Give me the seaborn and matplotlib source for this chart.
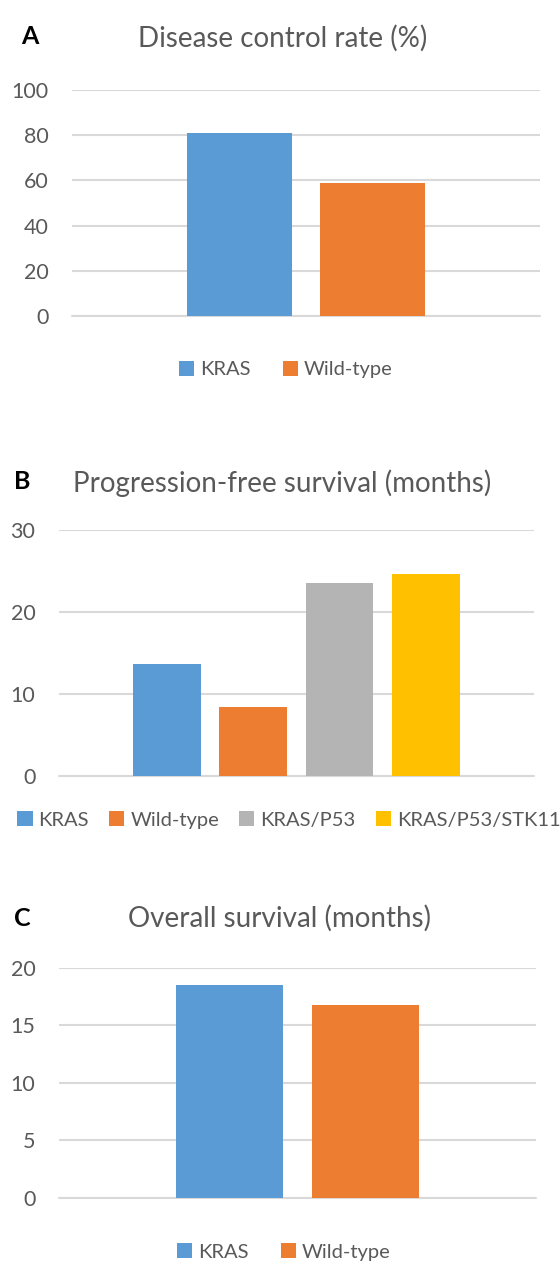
import pandas as pd
import matplotlib.pyplot as plt
import seaborn as sns

# --- Dados ---
DCR_GROUPS = ["KRAS", "Wild-type"]
DCR_VALUES = [81, 59]

PFS_GROUPS = ["KRAS", "Wild-type", "KRAS/P53", "KRAS/P53/STK11"]
PFS_VALUES = [13.6, 8.4, 23.5, 24.6]

OS_GROUPS = ["KRAS", "Wild-type"]
OS_VALUES = [18.5, 16.8]

COLORS = {"KRAS": "#5B9BD5", "Wild-type": "#ED7D31",
          "KRAS/P53": "#B4B4B4", "KRAS/P53/STK11": "#FFC000"}

TEXT = "#595959"
GRID = "#D9D9D9"

sns.set_theme(style="white")
plt.rcParams['font.family'] = ['Lato', 'DejaVu Sans']


def painel(fig, rect, groups, values, yticks, width, gap, title, letter,
           title_xy, letter_xy, legend_xy, tick_pad):
    ax = fig.add_axes(rect)
    df = pd.DataFrame({"cat": [""] * len(groups), "group": groups, "value": values})
    sns.barplot(data=df, x="cat", y="value", hue="group", hue_order=groups,
                palette=COLORS, width=width, gap=gap, saturation=1,
                linewidth=0, ax=ax, zorder=3)
    ax.set_xlim(-0.5, 0.5)
    ax.set_ylim(yticks[0], yticks[-1])
    ax.set_yticks(yticks)
    ax.set_xticks([])
    ax.set_xlabel("")
    ax.set_ylabel("")
    for s in ax.spines.values():
        s.set_visible(False)
    ax.grid(axis='y', color=GRID, linewidth=1.5, zorder=0)
    ax.set_axisbelow(True)
    ax.tick_params(axis='y', length=0, pad=tick_pad, labelsize=15.5, labelcolor=TEXT)
    ax.set_facecolor("white")
    # linha do zero
    ax.axhline(0, color=GRID, linewidth=1.5, zorder=1, clip_on=False)

    handles, labels = ax.get_legend_handles_labels()
    ax.get_legend().remove()
    fig.legend(handles, labels, loc='center', bbox_to_anchor=legend_xy,
               ncol=len(groups), frameon=False, fontsize=14.5,
               handlelength=0.75, handleheight=0.75, handletextpad=0.3,
               columnspacing=1.0 if len(groups) > 2 else 1.6,
               labelcolor=TEXT)

    fig.text(title_xy[0], title_xy[1], title, ha='center', va='center',
             fontsize=20, color=TEXT)
    fig.text(letter_xy[0], letter_xy[1], letter, ha='center', va='center',
             fontsize=18, fontweight='bold', color='black')
    return ax


def main():
    fig = plt.figure(figsize=(5.6, 12.75), dpi=100)
    fig.patch.set_facecolor("white")

    painel(fig, [0.1286, 0.7522, 0.8357, 0.1773], DCR_GROUPS, DCR_VALUES,
           [0, 20, 40, 60, 80, 100], 0.568, 0.21,
           "Disease control rate (%)", "A",
           (0.504, 0.970), (0.053, 0.971), (0.51, 0.71), 17)

    painel(fig, [0.1054, 0.3914, 0.848, 0.193], PFS_GROUPS, PFS_VALUES,
           [0, 10, 20, 30], 0.725, 0.21,
           "Progression-free survival (months)", "B",
           (0.504, 0.621), (0.04, 0.622), (0.516, 0.357), 17)

    painel(fig, [0.1054, 0.0604, 0.852, 0.1804], OS_GROUPS, OS_VALUES,
           [0, 5, 10, 15, 20], 0.57, 0.214,
           "Overall survival (months)", "C",
           (0.50, 0.28), (0.04, 0.28), (0.507, 0.018), 17)

    fig.savefig("out.png", dpi=100, facecolor="white")


if __name__ == "__main__":
    main()
